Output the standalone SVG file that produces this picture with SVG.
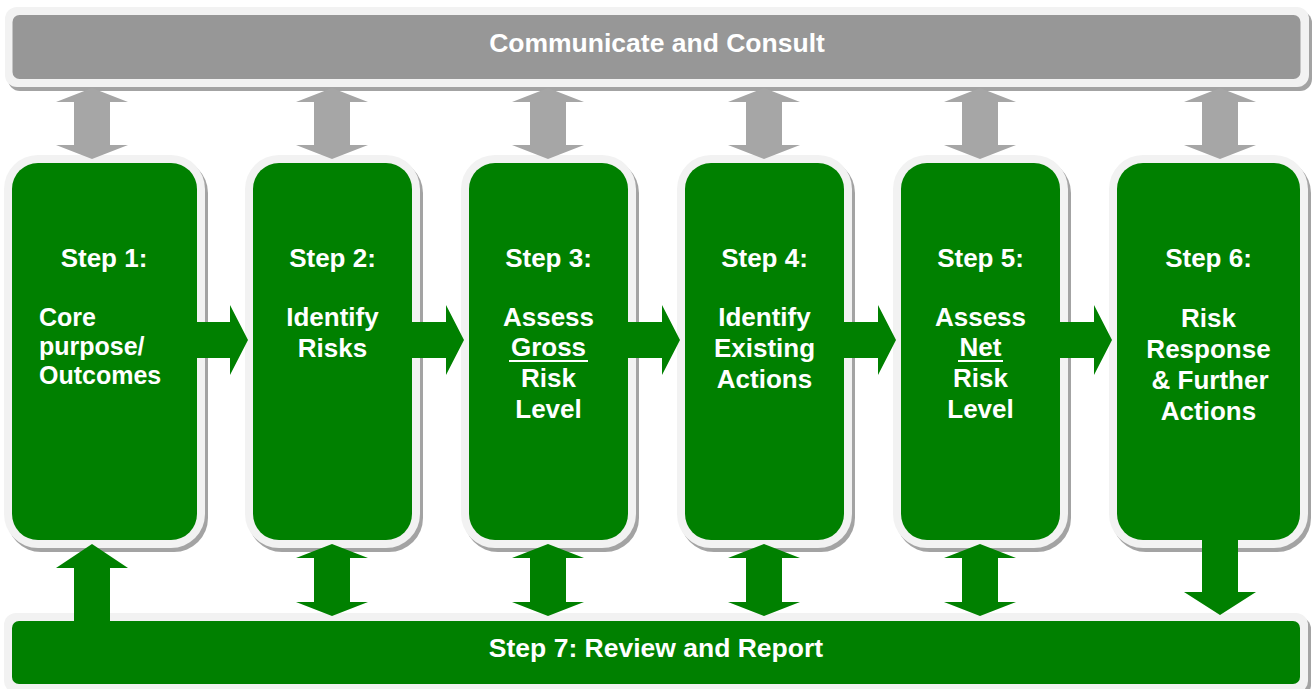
<svg xmlns="http://www.w3.org/2000/svg" width="1312" height="689" viewBox="0 0 1312 689">
  <style>
    .shadow { fill: #a3a3a3; }
    .frame { fill: #f2f2f2; }
    .step { fill: #008000; }
    .bar { fill: #979797; }
    .garrow { fill: #a6a6a6; }
    .arrow { fill: #008000; }
    text { font-family: "Liberation Sans", Arial, sans-serif; font-weight: bold; fill: #ffffff; font-size: 26px; }
    .banner { font-size: 26.5px; }
    .small { font-size: 25px; }
    .c { text-anchor: middle; }
    .ul { stroke: #ffffff; stroke-width: 2; }
  </style>
  <rect width="1312" height="689" fill="#ffffff"/>

  <!-- Communicate and Consult banner -->
  <g id="communicate">
    <rect class="shadow" x="8" y="11" width="1304" height="80" rx="12"/>
    <rect class="frame" x="5" y="7" width="1304" height="80" rx="12"/>
    <rect class="bar" x="12.5" y="15" width="1288" height="64" rx="7"/>
    <text class="c banner" x="657" y="52">Communicate and Consult</text>
  </g>

  <!-- Step 7 banner -->
  <g id="step7">
    <rect class="shadow" x="7" y="617" width="1304" height="80" rx="12"/>
    <rect class="frame" x="4" y="613" width="1304" height="80" rx="12"/>
    <rect class="step" x="12" y="621" width="1288" height="63" rx="7"/>
  </g>

  <!-- Step boxes -->
  <g id="step1">
    <rect class="shadow" x="7" y="159" width="201" height="393" rx="34"/>
    <rect class="frame" x="4" y="155" width="201" height="393" rx="34"/>
    <rect class="step" x="12" y="163" width="185" height="377" rx="26"/>
    <text class="c" x="104" y="267">Step 1:</text>
    <text class="small" x="39" y="326">Core</text>
    <text class="small" x="39" y="355">purpose/</text>
    <text class="small" x="39" y="384">Outcomes</text>
  </g>
  <g id="step2">
    <rect class="shadow" x="248" y="159" width="175" height="393" rx="34"/>
    <rect class="frame" x="245" y="155" width="175" height="393" rx="34"/>
    <rect class="step" x="253" y="163" width="159" height="377" rx="26"/>
    <text class="c" x="332.5" y="267">Step 2:</text>
    <text class="c" x="332.5" y="326">Identify</text>
    <text class="c" x="332.5" y="357">Risks</text>
  </g>
  <g id="step3">
    <rect class="shadow" x="464" y="159" width="175" height="393" rx="34"/>
    <rect class="frame" x="461" y="155" width="175" height="393" rx="34"/>
    <rect class="step" x="469" y="163" width="159" height="377" rx="26"/>
    <text class="c" x="548.5" y="267">Step 3:</text>
    <text class="c" x="548.5" y="326">Assess</text>
    <text class="c" x="548.5" y="356">Gross</text>
    <line class="ul" x1="509" y1="361" x2="588" y2="361"/>
    <text class="c" x="548.5" y="387">Risk</text>
    <text class="c" x="548.5" y="418">Level</text>
  </g>
  <g id="step4">
    <rect class="shadow" x="680" y="159" width="175" height="393" rx="34"/>
    <rect class="frame" x="677" y="155" width="175" height="393" rx="34"/>
    <rect class="step" x="685" y="163" width="159" height="377" rx="26"/>
    <text class="c" x="764.5" y="267">Step 4:</text>
    <text class="c" x="764.5" y="326">Identify</text>
    <text class="c" x="764.5" y="357">Existing</text>
    <text class="c" x="764.5" y="388">Actions</text>
  </g>
  <g id="step5">
    <rect class="shadow" x="896" y="159" width="175" height="393" rx="34"/>
    <rect class="frame" x="893" y="155" width="175" height="393" rx="34"/>
    <rect class="step" x="901" y="163" width="159" height="377" rx="26"/>
    <text class="c" x="980.5" y="267">Step 5:</text>
    <text class="c" x="980.5" y="326">Assess</text>
    <text class="c" x="980.5" y="356">Net</text>
    <line class="ul" x1="958" y1="361" x2="1003" y2="361"/>
    <text class="c" x="980.5" y="387">Risk</text>
    <text class="c" x="980.5" y="418">Level</text>
  </g>
  <g id="step6">
    <rect class="shadow" x="1112" y="159" width="199" height="393" rx="34"/>
    <rect class="frame" x="1109" y="155" width="199" height="393" rx="34"/>
    <rect class="step" x="1117" y="163" width="183" height="377" rx="26"/>
    <text class="c" x="1208.5" y="267">Step 6:</text>
    <text class="c" x="1208.5" y="327">Risk</text>
    <text class="c" x="1208.5" y="358">Response</text>
    <text class="c" x="1210" y="389">&amp; Further</text>
    <text class="c" x="1208.5" y="420">Actions</text>
  </g>

  <!-- Connectors -->
  <g id="connectors">
    <!-- two-way links to the consult banner -->
    <g class="garrow">
      <polygon points="92,88 128,102 110,102 110,145 128,145 92,159 56,145 74,145 74,102 56,102"/>
      <polygon points="332,88 368,102 350,102 350,145 368,145 332,159 296,145 314,145 314,102 296,102"/>
      <polygon points="548,88 584,102 566,102 566,145 584,145 548,159 512,145 530,145 530,102 512,102"/>
      <polygon points="764,88 800,102 782,102 782,145 800,145 764,159 728,145 746,145 746,102 728,102"/>
      <polygon points="980,88 1016,102 998,102 998,145 1016,145 980,159 944,145 962,145 962,102 944,102"/>
      <polygon points="1220,88 1256,102 1238,102 1238,145 1256,145 1220,159 1184,145 1202,145 1202,102 1184,102"/>
    </g>
    <!-- step to step flow -->
    <g class="arrow">
      <polygon points="185,322 230,322 230,305 248,340 230,375 230,358 185,358"/>
      <polygon points="402,322 446,322 446,305 464,340 446,375 446,358 402,358"/>
      <polygon points="618,322 662,322 662,305 680,340 662,375 662,358 618,358"/>
      <polygon points="834,322 878,322 878,305 896,340 878,375 878,358 834,358"/>
      <polygon points="1050,322 1094,322 1094,305 1112,340 1094,375 1094,358 1050,358"/>
    </g>
    <!-- links to the review banner -->
    <g class="arrow">
      <polygon points="92,544 128,568 110,568 110,640 74,640 74,568 56,568"/>
      <polygon points="332,544 368,558 350,558 350,602 368,602 332,616 296,602 314,602 314,558 296,558"/>
      <polygon points="548,544 584,558 566,558 566,602 584,602 548,616 512,602 530,602 530,558 512,558"/>
      <polygon points="764,544 800,558 782,558 782,602 800,602 764,616 728,602 746,602 746,558 728,558"/>
      <polygon points="980,544 1016,558 998,558 998,602 1016,602 980,616 944,602 962,602 962,558 944,558"/>
      <polygon points="1202,520 1238,520 1238,592 1256,592 1220,615 1184,592 1202,592"/>
    </g>
  </g>

  <text class="c banner" x="656" y="657">Step 7: Review and Report</text>
</svg>
